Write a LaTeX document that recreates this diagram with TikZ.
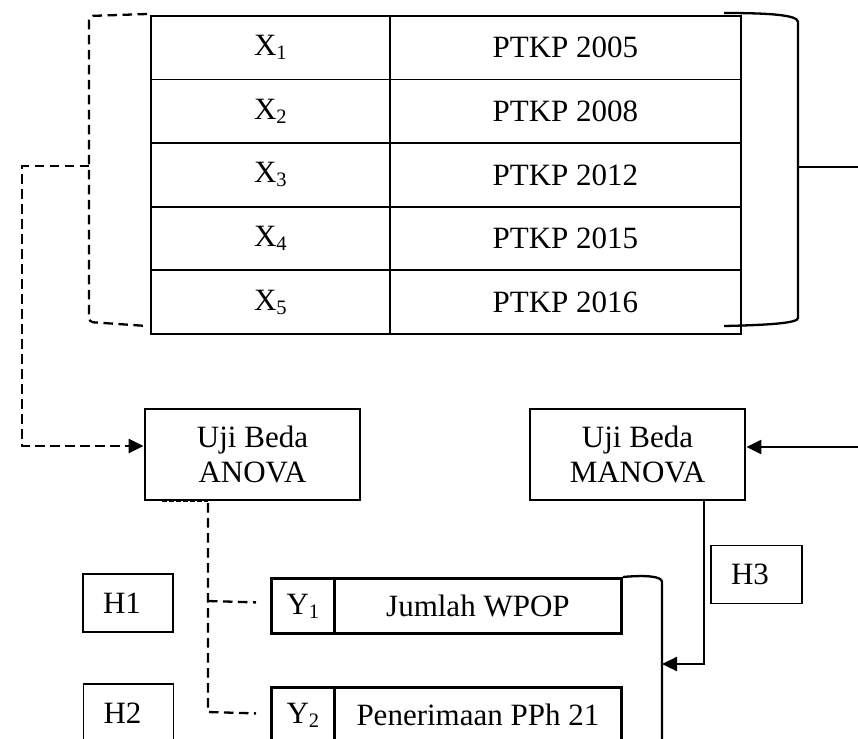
\documentclass[tikz,border=0pt]{standalone}
\usepackage{fontspec}
\setmainfont{Liberation Serif}
\usetikzlibrary{arrows.meta}
% lowered, smaller index digit
\newcommand{\idx}[1]{\raisebox{-4pt}{\fontsize{20.5}{20.5}\selectfont #1}}
\begin{document}
\begin{tikzpicture}[x=1pt,y=-1pt,
  font=\fontsize{31}{35}\selectfont,
  cell/.style={draw,line width=1.8pt,inner sep=0pt,anchor=north west,minimum height=63.6pt},
  testbox/.style={draw,line width=2.8pt,inner sep=0pt,align=center,minimum width=215pt,minimum height=91pt},
  ybox/.style={draw,line width=2.8pt,inner sep=0pt,anchor=north west,minimum height=55pt},
  hbox/.style={draw,line width=1.5pt,inner xsep=20pt,inner ysep=0pt,text width=50pt,align=left,minimum height=58pt},
  dsh/.style={line width=2.3pt,dash pattern=on 9.5pt off 5.5pt},
  solidline/.style={line width=2.3pt},
  tip/.style={-{Triangle[length=15pt,width=14pt]}}]
\useasboundingbox (0,0) rectangle (858,738);

% table of tax-free income thresholds
\foreach \i/\yr in {1/2005,2/2008,3/2012,4/2015,5/2016}{
  \node[cell,minimum width=239pt] (x\i) at (150,{15+(\i-1)*63.6}) {X\idx{\i}};
  \node[cell,minimum width=351pt] (p\i) at (389,{15+(\i-1)*63.6}) {PTKP \yr};
}

% dashed bracket on the left of the table
\draw[dsh,rounded corners=4pt] (147,14) -- (89,16) -- (89,166) coordinate (lb) -- (89,322) -- (147,326);

% solid bracket on the right of the table
\draw[solidline] (724,13) .. controls (770,13) and (798,15) .. (798,22) -- (798,318)
  .. controls (798,323) and (770,325) .. (724,326);
\coordinate (rb) at (798,167);
\draw[solidline] (rb) -- (858,167);

% test boxes
\node[testbox] (anova) at (252.5,454.5) {Uji Beda\\ANOVA};
\node[testbox] (manova) at (637.5,454.5) {Uji Beda\\MANOVA};

% dependent variables
\node[ybox,minimum width=63pt] (y1l) at (270,577) {Y\idx{1}};
\node[ybox,minimum width=287pt] (y1r) at (333,577) {Jumlah WPOP};
\node[ybox,minimum width=63pt] (y2l) at (270,686) {Y\idx{2}};
\node[ybox,minimum width=287pt] (y2r) at (333,686) {Penerimaan PPh 21};

% hypotheses
\node[hbox] (h1) at (128,603) {H1};
\node[hbox,anchor=north] (h2) at (128.5,683) {H2};
\node[hbox,text width=51pt] (h3) at (756.5,574.5) {H3};

% bracket grouping the dependent variables
\draw[solidline] (y1r.north east) .. controls (645,575) and (662,576) .. (662,582) -- (662,745);
\coordinate (yb) at (662,664);

% ANOVA path
\draw[dsh,tip] (lb) -- (22,166) -- (22,446) -- ([yshift=8.5pt]anova.west);
\draw[line width=2.3pt,dash pattern=on 5pt off 2pt] (162,501) -- (208,501);
\coordinate (aj) at (208,503);
\draw[dsh] (aj) -- (208,712) -- ([xshift=-14pt,yshift=1.5pt]y2l.west);
\draw[dsh] (208,601) -- ([xshift=-14pt,yshift=3.5pt]y1l.west);

% MANOVA path
\draw[solidline,tip] (858,447) -- ([yshift=7.5pt]manova.east);
\draw[solidline,tip] ([xshift=66.5pt]manova.south) |- (yb);
\end{tikzpicture}
\end{document}
